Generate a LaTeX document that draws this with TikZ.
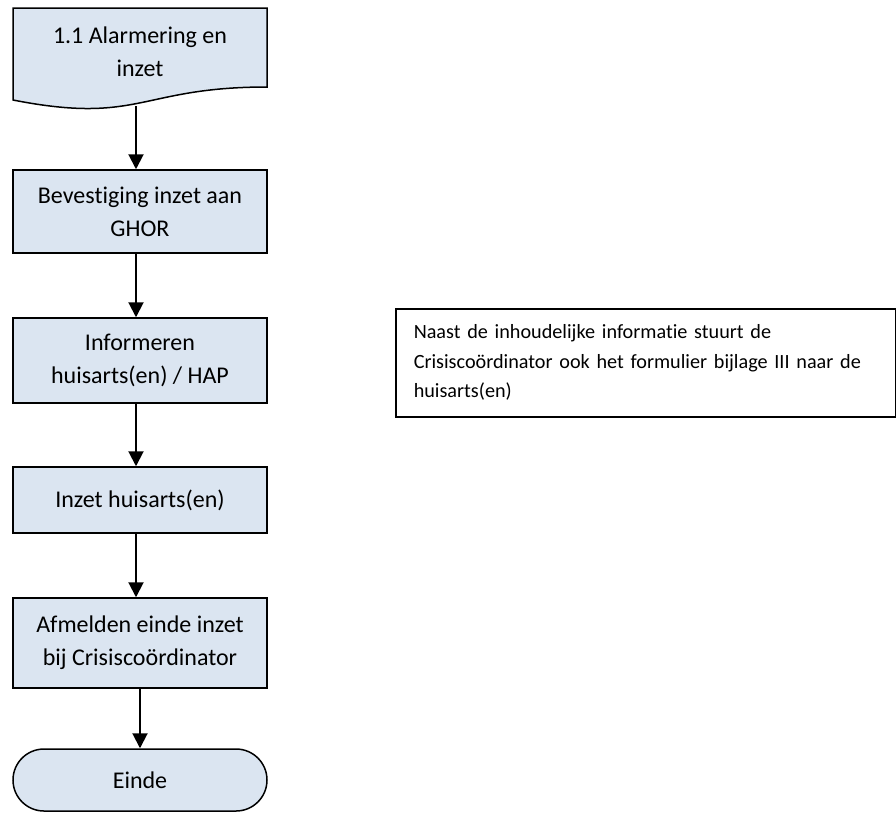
\documentclass[tikz,border=0pt]{standalone}
\usepackage{fontspec}
\setmainfont{Carlito}[Ligatures=NoCommon]
\usetikzlibrary{arrows.meta,shapes.misc}
\definecolor{boxblue}{HTML}{DBE5F1}

\begin{document}
\begin{tikzpicture}
    [
  x=1pt, y=-1pt,
  stepbox/.style={
    rectangle,
    draw=black,
    fill=boxblue,
    line width=1.5pt,
    minimum width=254pt,
    inner sep=0pt,
    align=center,
    font=\fontsize{24}{33}\selectfont
  },
  endbox/.style={
    stepbox,
    rounded rectangle,
    rounded rectangle arc length=180
  },
  notebox/.style={
    rectangle,
    draw=black,
    line width=1.5pt,
    text width=464pt,
    inner xsep=18pt,
    inner ysep=0pt,
    align=left,
    font=\fontsize{20.2}{29.5}\selectfont
  },
  flow/.style={
    line width=2pt,
    -{Triangle[width=15pt,length=15pt]}
  }
  ]
  \useasboundingbox (0,0) rectangle (896,812);

  % document shape
  \path [draw=black, fill=boxblue, line width=1.5pt]
    (13,8) -- (267,8) -- (267,87)
    .. controls (140,87) and (140,125) .. (13,100) -- cycle;
  \node (alarm) at (140,52) [align=center, font=\fontsize{24}{33}\selectfont]
    {1.1 Alarmering en\\inzet};
  \coordinate (alarm-out) at (136,106);

  \node (confirm) at (140,211.5) [stepbox, minimum height=83pt]
    {Bevestiging inzet aan\\GHOR};
  \node (inform) at (140,360.5) [stepbox, minimum height=85pt]
    {Informeren\\huisarts(en) / HAP};
  \node (deploy) at (140,500) [stepbox, minimum height=66pt]
    {Inzet huisarts(en)};
  \node (signoff) at (140,643) [stepbox, minimum height=90pt]
    {Afmelden einde inzet\\bij Crisiscoördinator};
  \node (end) at (140,780) [endbox, minimum height=62pt] {Einde};

  \node (note) at (395,308) [notebox, anchor=north west, minimum height=108pt]
    {Naast de inhoudelijke informatie stuurt de\\
     Crisiscoördinator ook het formulier bijlage III naar de\\
     huisarts(en)};

  \draw [flow] (alarm-out) -- ([xshift=-4pt]confirm.north);
  \draw [flow] ([xshift=-4pt]confirm.south) -- ([xshift=-4pt]inform.north);
  \draw [flow] ([xshift=-4pt]inform.south) -- ([xshift=-4pt]deploy.north);
  \draw [flow] ([xshift=-4pt]deploy.south) -- ([xshift=-4pt]signoff.north);
  \draw [flow] (signoff.south) -- (end.north);
\end{tikzpicture}
\end{document}
